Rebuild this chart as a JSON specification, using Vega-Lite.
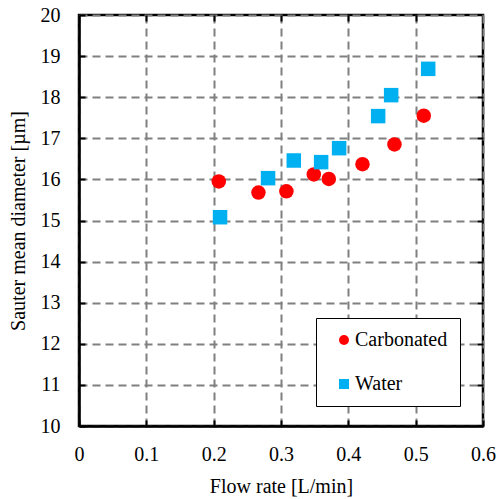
{
  "$schema": "https://vega.github.io/schema/vega-lite/v6.json",
  "width": 404,
  "height": 411,
  "autosize": {"type": "none"},
  "padding": {"left": 79, "top": 15, "right": 14, "bottom": 73},
  "background": "white",
  "config": {
    "view": {"stroke": "black", "strokeWidth": 2.5},
    "font": "Liberation Serif"
  },
  "data": {
    "values": [
      {"flow": 0.2076, "d": 15.95, "series": "Carbonated"},
      {"flow": 0.2665, "d": 15.68, "series": "Carbonated"},
      {"flow": 0.308, "d": 15.71, "series": "Carbonated"},
      {"flow": 0.3487, "d": 16.12, "series": "Carbonated"},
      {"flow": 0.371, "d": 16.01, "series": "Carbonated"},
      {"flow": 0.421, "d": 16.37, "series": "Carbonated"},
      {"flow": 0.4685, "d": 16.85, "series": "Carbonated"},
      {"flow": 0.512, "d": 17.55, "series": "Carbonated"},
      {"flow": 0.2095, "d": 15.08, "series": "Water"},
      {"flow": 0.2808, "d": 16.03, "series": "Water"},
      {"flow": 0.319, "d": 16.46, "series": "Water"},
      {"flow": 0.3596, "d": 16.42, "series": "Water"},
      {"flow": 0.3863, "d": 16.76, "series": "Water"},
      {"flow": 0.4443, "d": 17.54, "series": "Water"},
      {"flow": 0.4636, "d": 18.05, "series": "Water"},
      {"flow": 0.5186, "d": 18.69, "series": "Water"}
    ]
  },
  "layer": [
    {
      "mark": {"type": "point", "opacity": 0},
      "encoding": {
        "x": {
          "field": "flow", "type": "quantitative",
          "scale": {"domain": [0, 0.6], "nice": false, "zero": false},
          "axis": {
            "orient": "top", "title": null, "labels": false, "grid": false, "domain": false,
            "values": [0.1, 0.2, 0.3, 0.4, 0.5], "tickSize": -6, "tickColor": "black", "tickWidth": 2
          }
        },
        "y": {
          "field": "d", "type": "quantitative",
          "scale": {"domain": [10, 20], "nice": false, "zero": false},
          "axis": {
            "orient": "right", "title": null, "labels": false, "grid": false, "domain": false,
            "values": [11, 12, 13, 14, 15, 16, 17, 18, 19], "tickSize": -6, "tickColor": "black", "tickWidth": 2
          }
        }
      }
    },
    {
      "mark": {"type": "point", "filled": true, "opacity": 1, "size": 210},
      "encoding": {
        "x": {
          "field": "flow", "type": "quantitative",
          "scale": {"domain": [0, 0.6], "nice": false, "zero": false},
          "axis": {
            "orient": "bottom", "title": "Flow rate [L/min]", "values": [0, 0.1, 0.2, 0.3, 0.4, 0.5, 0.6], "format": "~g",
            "tickSize": -6, "labelPadding": 24, "titlePadding": 12, "labelFlush": false,
            "labelFont": "Liberation Serif", "titleFont": "Liberation Serif", "labelFontSize": 20, "titleFontSize": 20,
            "labelColor": "black", "titleColor": "black", "titleFontWeight": "normal",
            "domainColor": "black", "domainWidth": 2.5, "tickColor": "black", "tickWidth": 2,
            "grid": true, "gridColor": "#808080", "gridWidth": 2, "gridDash": [8, 5]
          }
        },
        "y": {
          "field": "d", "type": "quantitative",
          "scale": {"domain": [10, 20], "nice": false, "zero": false},
          "axis": {
            "orient": "left", "title": "Sauter mean diameter [µm]", "values": [10, 11, 12, 13, 14, 15, 16, 17, 18, 19, 20],
            "tickSize": -6, "labelPadding": 25, "titlePadding": 12, "labelFlush": false,
            "labelFont": "Liberation Serif", "titleFont": "Liberation Serif", "labelFontSize": 20, "titleFontSize": 20,
            "labelColor": "black", "titleColor": "black", "titleFontWeight": "normal",
            "domainColor": "black", "domainWidth": 2.5, "tickColor": "black", "tickWidth": 2,
            "grid": true, "gridColor": "#808080", "gridWidth": 2, "gridDash": [8, 5]
          }
        },
        "color": {
          "field": "series", "type": "nominal",
          "scale": {"domain": ["Carbonated", "Water"], "range": ["#FF0000", "#00B0F0"]},
          "legend": {
            "title": null, "orient": "none", "legendX": 237, "legendY": 303,
            "strokeColor": "black", "fillColor": "white",
            "padding": 12, "symbolSize": 100, "symbolOffset": 6, "labelOffset": 1,
            "rowPadding": 24, "labelFontSize": 20, "labelFont": "Liberation Serif", "labelColor": "black",
            "symbolOpacity": 1
          }
        },
        "shape": {
          "field": "series", "type": "nominal",
          "scale": {"domain": ["Carbonated", "Water"], "range": ["circle", "square"]},
          "legend": {
            "title": null, "orient": "none", "legendX": 237, "legendY": 303,
            "strokeColor": "black", "fillColor": "white",
            "padding": 12, "symbolSize": 100, "symbolOffset": 6, "labelOffset": 1,
            "rowPadding": 24, "labelFontSize": 20, "labelFont": "Liberation Serif", "labelColor": "black",
            "symbolOpacity": 1
          }
        }
      }
    }
  ],
  "resolve": {"axis": {"x": "independent", "y": "independent"}}
}
